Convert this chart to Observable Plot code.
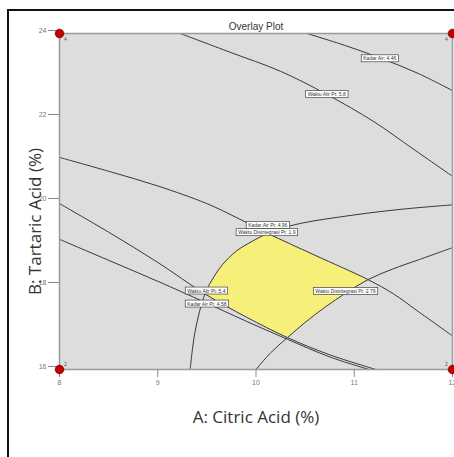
<!DOCTYPE html>
<html><head><meta charset="utf-8">
<script src="https://cdn.jsdelivr.net/npm/d3@7"></script>
<script src="https://cdn.jsdelivr.net/npm/@observablehq/plot@0.6"></script>
<style>
html,body{margin:0;padding:0;background:#fff;overflow:hidden;}
#wrap{position:relative;width:454px;height:457px;overflow:hidden;}
#border{position:absolute;left:7px;top:9px;width:480px;height:480px;border-left:2px solid #111;border-top:2px solid #111;pointer-events:none;}
svg{display:block;}
</style></head><body><div id="wrap"><div id="border"></div></div>
<script>
// Axis ticks
const xTicks = [8, 9, 10, 11, 12];
const yTicks = [16, 18, 20, 22, 24];

// Contour lines (x = Citric Acid %, y = Tartaric Acid %)
const lineKadarAirTop = [[10.52,24],[10.9,23.72],[11.26,23.42],[11.65,23.05],[12,22.64]];
const lineWaktuAlirTop = [[9.23,24],[9.74,23.55],[10.25,23.1],[10.72,22.55],[11.2,21.9],[11.6,21.25],[12,20.6]];
const lineDisintegrasi19 = [[8,21.05],[8.5,20.72],[9,20.37],[9.5,19.95],[9.8,19.62],[10.12,19.24],[10.6,18.72],[11.14,18.14],[11.4,17.8],[11.64,17.4],[12,16.8]];
const lineKadarAirArc = [[9.33,16],[9.38,16.9],[9.48,17.8],[9.57,18.2],[9.66,18.5],[9.8,18.82],[9.96,19.05],[10.12,19.24],[10.4,19.45],[11,19.68],[11.5,19.82],[12,19.92]];
const lineWaktuAlirLow = [[8,19.95],[8.5,19.27],[9,18.55],[9.48,17.8],[9.9,17.25],[10.32,16.76],[10.75,16.35],[11.22,16]];
const lineKadarAirLow = [[8,19.1],[8.5,18.6],[9,18.1],[9.48,17.6],[9.9,17.15],[10.32,16.72],[10.75,16.3],[11.15,16]];
const lineDisintegrasi27 = [[10,16],[10.15,16.4],[10.32,16.76],[10.5,17.12],[10.7,17.48],[10.92,17.83],[11.14,18.14],[11.4,18.4],[11.64,18.6],[12,18.9]];

// Feasible (yellow) region
const feasible = [[9.48,17.8],[9.57,18.2],[9.66,18.5],[9.8,18.82],[9.96,19.05],[10.12,19.24],[10.6,18.72],[11.14,18.14],[10.92,17.83],[10.7,17.48],[10.5,17.12],[10.32,16.76],[9.9,17.25],[9.48,17.8]];

// Contour labels
const labelText = ["Kadar Air: 4.46","Waktu Alir Pt: 5.8","Kadar Air Pt: 4.96","Waktu Disintegrasi Pt: 1.9","Waktu Alir Pt: 5.4","Kadar Air Pt: 4.58","Waktu Disintegrasi Pt: 2.79"];
const labelX = [11.26, 10.72, 10.12, 10.11, 9.495, 9.5, 10.91];
const labelY = [23.40, 22.55, 19.43, 19.26, 17.87, 17.56, 17.86];

// Design points
const cornerX = [8, 12, 8, 12];
const cornerY = [24, 24, 16, 16];
const cornerN = ["4", "4", "2", "2"];

const contours = [lineKadarAirTop, lineWaktuAlirTop, lineDisintegrasi19, lineKadarAirArc, lineWaktuAlirLow, lineKadarAirLow, lineDisintegrasi27];
const contourRows = contours.flatMap((pts, i) => pts.map(([x, y]) => ({x, y, id: i})));
const feasibleRows = feasible.map(([x, y]) => ({x, y}));
const labels = labelText.map((t, i) => ({t, x: labelX[i], y: labelY[i]}));
const corners = cornerX.map((x, i) => ({x, y: cornerY[i], n: cornerN[i]}));

const font = "Liberation Sans, Arial, sans-serif";
const cornerText = (fx, fy, dx, dy) =>
  Plot.text(corners, {filter: d => d.x === fx && d.y === fy, x: "x", y: "y", text: "n", fontSize: 5, fill: "#555", dx, dy});

const chart = Plot.plot({
  width: 454,
  height: 457,
  marginLeft: 59,
  marginRight: 2,
  marginTop: 33,
  marginBottom: 88,
  style: {fontFamily: font, background: "transparent", overflow: "visible"},
  x: {domain: [8, 12]},
  y: {domain: [16, 24]},
  marks: [
    Plot.frame({fill: "#dddddd", stroke: "none"}),
    Plot.line(feasibleRows, {x: "x", y: "y", fill: "#f6f07b", stroke: "none", curve: "linear-closed"}),
    Plot.line(contourRows, {x: "x", y: "y", z: "id", stroke: "#383838", strokeWidth: 1, curve: "catmull-rom"}),
    Plot.frame({stroke: "#9a9a9a", strokeWidth: 1.5}),
    Plot.axisX({ticks: xTicks, tickFormat: d => String(d), tickSize: 8, tickPadding: 3, fontSize: 7, stroke: "#8a8a8a", color: "#777", label: null}),
    Plot.axisY({ticks: yTicks, tickFormat: d => String(d), tickSize: 11, tickPadding: 2, fontSize: 7, dy: -3, stroke: "#8a8a8a", color: "#777", label: null}),
    Plot.text(labels, {x: "x", y: "y", text: "t", fontSize: 5, fill: "#333"}),
    Plot.dot(corners, {x: "x", y: "y", r: 4.3, fill: "#c40000", stroke: "#7a0000", strokeWidth: 0.8}),
    cornerText(8, 24, 6, 6),
    cornerText(12, 24, -6, 6),
    cornerText(8, 16, 6, -5),
    cornerText(12, 16, -6, -5),
    Plot.text(["Overlay Plot"], {frameAnchor: "top", lineAnchor: "middle", dy: -7, fontSize: 10, fill: "#333"}),
    Plot.text(["A: Citric Acid (%)"], {frameAnchor: "bottom", lineAnchor: "middle", textAnchor: "middle", dy: 48, fontSize: 17, fill: "#333", fontFamily: "Open Sans"}),
    Plot.text(["B: Tartaric Acid (%)"], {frameAnchor: "left", lineAnchor: "middle", textAnchor: "middle", dx: -24, dy: 20, rotate: -90, fontSize: 17, fill: "#333", fontFamily: "Open Sans"})
  ]
});

document.getElementById("wrap").insertBefore(chart, document.getElementById("border"));

// white boxes behind contour labels
const svgNS = "http://www.w3.org/2000/svg";
const labelSet = new Set(labelText);
chart.querySelectorAll("text").forEach(t => {
  if (!labelSet.has(t.textContent)) return;
  const bb = t.getBBox();
  const r = document.createElementNS(svgNS, "rect");
  r.setAttribute("x", bb.x - 2);
  r.setAttribute("y", bb.y - 0.5);
  r.setAttribute("width", bb.width + 4);
  r.setAttribute("height", bb.height + 1);
  r.setAttribute("fill", "#fff");
  r.setAttribute("stroke", "#444");
  r.setAttribute("stroke-width", 0.7);
  const tr = t.getAttribute("transform");
  if (tr) r.setAttribute("transform", tr);
  t.parentNode.insertBefore(r, t);
});
</script></body></html>
